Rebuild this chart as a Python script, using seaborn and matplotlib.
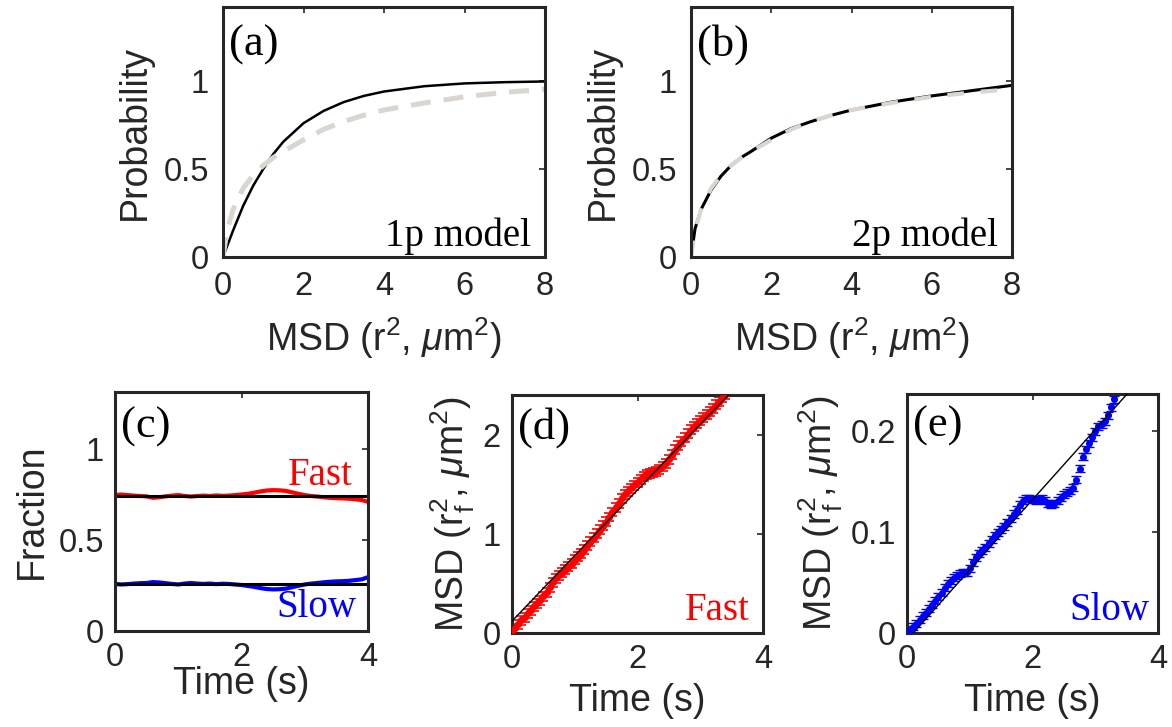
import numpy as np
import pandas as pd
import matplotlib
matplotlib.use("Agg")
import matplotlib.pyplot as plt
import seaborn as sns

# ---------------- data ----------------
# (a)/(b) cumulative probability vs MSD
msd_x = [0, 0.1, 0.25, 0.5, 0.75, 1.0, 1.25, 1.5, 2.0, 2.5, 3.0, 3.5, 4.0, 5.0, 6.0, 7.0, 8.0]
emp_cdf = [0, 0.15, 0.27, 0.39, 0.465, 0.52, 0.565, 0.60, 0.665, 0.725, 0.77, 0.805, 0.835, 0.875, 0.91, 0.935, 0.953]
fit_1p = [0, 0.06, 0.15, 0.29, 0.405, 0.50, 0.585, 0.655, 0.76, 0.83, 0.88, 0.915, 0.94, 0.97, 0.986, 0.993, 0.997]
fit_2p = [0, 0.16, 0.27, 0.38, 0.46, 0.52, 0.565, 0.60, 0.675, 0.73, 0.77, 0.805, 0.835, 0.88, 0.915, 0.945, 0.975]

# (c) fractions vs time
t_frac = [round(0.1 * i, 1) for i in range(41)]
frac_fast = [0.745, 0.748, 0.745, 0.742, 0.740, 0.738, 0.730, 0.733, 0.738, 0.742,
             0.745, 0.740, 0.737, 0.740, 0.742, 0.740, 0.743, 0.741, 0.742, 0.745,
             0.748, 0.752, 0.758, 0.765, 0.770, 0.772, 0.771, 0.768, 0.760, 0.752,
             0.745, 0.740, 0.737, 0.733, 0.730, 0.728, 0.727, 0.725, 0.722, 0.718, 0.708]
frac_slow = [0.258, 0.255, 0.257, 0.260, 0.262, 0.263, 0.268, 0.266, 0.262, 0.258,
             0.255, 0.260, 0.263, 0.260, 0.258, 0.260, 0.257, 0.259, 0.258, 0.255,
             0.252, 0.247, 0.242, 0.235, 0.230, 0.228, 0.229, 0.232, 0.240, 0.248,
             0.255, 0.260, 0.263, 0.267, 0.270, 0.272, 0.273, 0.275, 0.279, 0.283, 0.295]
fit_fast_frac = 0.74
fit_slow_frac = 0.26

# (d) fast MSD vs time
t_fast = [round(0.05 * i, 2) for i in range(70)]
msd_fast = [0.02, 0.05, 0.09, 0.13, 0.16, 0.20, 0.23, 0.27, 0.30, 0.33,
            0.37, 0.41, 0.46, 0.51, 0.55, 0.58, 0.61, 0.64, 0.67, 0.70,
            0.74, 0.77, 0.80, 0.84, 0.88, 0.92, 0.96, 1.00, 1.04, 1.08,
            1.12, 1.17, 1.22, 1.27, 1.31, 1.36, 1.40, 1.43, 1.46, 1.49,
            1.52, 1.55, 1.58, 1.60, 1.61, 1.62, 1.63, 1.65, 1.68, 1.71,
            1.75, 1.80, 1.85, 1.89, 1.93, 1.97, 2.01, 2.05, 2.08, 2.11,
            2.14, 2.17, 2.20, 2.23, 2.26, 2.30, 2.33, 2.37, 2.40, 2.44]
msd_fast_err = 0.045
fit_fast_t = [0.0, 3.6]
fit_fast_msd = [0.12, 2.50]

# (e) slow MSD vs time
t_slow = [round(0.05 * i, 2) for i in range(67)]
msd_slow = [0.000, 0.003, 0.006, 0.009, 0.013, 0.017, 0.020, 0.024, 0.028, 0.032,
            0.036, 0.040, 0.045, 0.049, 0.052, 0.055, 0.057, 0.059, 0.060, 0.060,
            0.064, 0.070, 0.075, 0.079, 0.082, 0.085, 0.089, 0.093, 0.097, 0.100,
            0.103, 0.106, 0.110, 0.114, 0.118, 0.122, 0.127, 0.131, 0.133, 0.133,
            0.132, 0.131, 0.132, 0.133, 0.131, 0.128, 0.127, 0.128, 0.131, 0.134,
            0.137, 0.139, 0.141, 0.144, 0.152, 0.163, 0.175, 0.182, 0.188, 0.194,
            0.200, 0.205, 0.207, 0.210, 0.216, 0.224, 0.232]
msd_slow_err = 0.0035
fit_slow_t = [0.1, 3.55]
fit_slow_msd = [0.0, 0.240]

# ---------------- style ----------------
sns.set_theme(style="white")
plt.rcParams["font.family"] = ["Liberation Sans", "DejaVu Sans"]
plt.rcParams["mathtext.fontset"] = "custom"
plt.rcParams["mathtext.rm"] = "Liberation Sans"
plt.rcParams["mathtext.it"] = "Liberation Sans:italic"
plt.rcParams["axes.edgecolor"] = "#262626"
plt.rcParams["axes.linewidth"] = 2.2

SERIF = ["Liberation Serif", "DejaVu Serif"]
TICK_FS = 23.5
LAB_FS = 27
ANN_FS = 28
LET_FS = 32
GRAY = (0.85, 0.84, 0.82)
DARK = "#262626"

fig = plt.figure(figsize=(11.72, 7.27), dpi=100)
W, H = 1172, 727


def add_axes(l, t, r, b):
    return fig.add_axes([l / W, 1 - b / H, (r - l) / W, (b - t) / H])


def style_axes(ax, pad=8):
    ax.tick_params(direction="in", length=4, width=1.2, top=True, right=True,
                   labelsize=TICK_FS, pad=pad, colors=DARK, labelcolor=DARK)
    for s in ax.spines.values():
        s.set_visible(True)
        s.set_color(DARK)
        s.set_linewidth(2.2)


ax_a = add_axes(223, 7, 545, 257)
ax_b = add_axes(691, 7, 1012, 257)
ax_c = add_axes(115, 392, 368, 631)
ax_d = add_axes(512, 395, 763, 633)
ax_e = add_axes(907, 394, 1158, 633)

df_ab = pd.DataFrame({"x": msd_x, "emp": emp_cdf, "f1": fit_1p, "f2": fit_2p})

# (a)
sns.lineplot(data=df_ab, x="x", y="f1", ax=ax_a, color="black", linewidth=1.8)
sns.lineplot(data=df_ab, x="x", y="emp", ax=ax_a, color=GRAY, linewidth=3.6,
             dashes=False).lines[-1].set_dashes([4, 2.6])
# (b)
sns.lineplot(data=df_ab, x="x", y="f2", ax=ax_b, color="black", linewidth=2.2)
sns.lineplot(data=df_ab, x="x", y="emp", ax=ax_b, color=GRAY, linewidth=3.0,
             dashes=False).lines[-1].set_dashes([4, 4])

for ax, lab, model in [(ax_a, "(a)", "1p model"), (ax_b, "(b)", "2p model")]:
    ax.set_xlim(0, 8)
    ax.set_ylim(0, 1.42)
    ax.set_xticks([0, 2, 4, 6, 8])
    ax.set_xticklabels(["0", "2", "4", "6", "8"])
    ax.set_yticks([0, 0.5, 1])
    ax.set_yticklabels(["0", "0.5", "1"])
    ax.set_xlabel(r"MSD (r$^2$, $\mu$m$^2$)", fontsize=LAB_FS, labelpad=10)
    ax.set_ylabel("Probability", fontsize=LAB_FS, labelpad=8)
    style_axes(ax, pad=10)
    ax.text(0.02, 0.93, lab, transform=ax.transAxes, ha="left", va="top",
            fontsize=LET_FS, family=SERIF, color="black")
    ax.text(0.955, 0.045, model, transform=ax.transAxes, ha="right", va="baseline",
            fontsize=ANN_FS, family=SERIF, color="black")

# (c)
df_c = pd.DataFrame({"t": t_frac, "fast": frac_fast, "slow": frac_slow})
sns.lineplot(data=df_c, x="t", y="fast", ax=ax_c, color="red", linewidth=3.0)
sns.lineplot(data=df_c, x="t", y="slow", ax=ax_c, color="blue", linewidth=3.0)
sns.lineplot(x=[0, 4], y=[fit_fast_frac, fit_fast_frac], ax=ax_c, color="black", linewidth=2.2)
sns.lineplot(x=[0, 4], y=[fit_slow_frac, fit_slow_frac], ax=ax_c, color="black", linewidth=2.2)
ax_c.set_xlim(0, 4)
ax_c.set_ylim(0, 1.31)
ax_c.set_yticks([0, 0.5, 1])
ax_c.set_yticklabels(["0", "0.5", "1"])
ax_c.set_xticks([0, 2, 4])
ax_c.set_xticklabels(["0", "2", "4"])
ax_c.set_ylabel("Fraction", fontsize=LAB_FS, labelpad=6)
ax_c.set_xlabel("Time (s)", fontsize=LAB_FS, labelpad=-5)
style_axes(ax_c)
ax_c.text(0.025, 0.94, "(c)", transform=ax_c.transAxes, ha="left", va="top",
          fontsize=LET_FS, family=SERIF, color="black")
ax_c.text(0.94, 0.61, "Fast", transform=ax_c.transAxes, ha="right", va="baseline",
          fontsize=ANN_FS, family=SERIF, color="red")
ax_c.text(0.955, 0.06, "Slow", transform=ax_c.transAxes, ha="right", va="baseline",
          fontsize=ANN_FS, family=SERIF, color="blue")

# (d)
ax_d.errorbar(t_fast, msd_fast, yerr=msd_fast_err, fmt="none", ecolor="red",
              elinewidth=1.2, capsize=3.5, capthick=1.2, zorder=2)
sns.scatterplot(x=t_fast, y=msd_fast, ax=ax_d, color="red", s=26, marker="o",
                edgecolor="red", linewidth=0, zorder=3)
sns.lineplot(x=fit_fast_t, y=fit_fast_msd, ax=ax_d, color="black", linewidth=1.0, zorder=4)
ax_d.set_xlim(0, 4)
ax_d.set_ylim(0, 2.4)
ax_d.set_yticks([0, 1, 2])
ax_d.set_yticklabels(["0", "1", "2"])
ax_d.set_xticks([0, 2, 4])
ax_d.set_xticklabels(["0", "2", "4"])
ax_d.set_xlabel("Time (s)", fontsize=LAB_FS, labelpad=6)
ax_d.set_ylabel(r"MSD (r$_\mathrm{f}^2$, $\mu$m$^2$)", fontsize=LAB_FS, labelpad=4)
style_axes(ax_d)
ax_d.text(0.025, 0.95, "(d)", transform=ax_d.transAxes, ha="left", va="top",
          fontsize=LET_FS, family=SERIF, color="black")
ax_d.text(0.945, 0.055, "Fast", transform=ax_d.transAxes, ha="right", va="baseline",
          fontsize=ANN_FS, family=SERIF, color="red")

# (e)
ax_e.errorbar(t_slow, msd_slow, yerr=msd_slow_err, fmt="none", ecolor="blue",
              elinewidth=1.0, capsize=3.5, capthick=1.0, zorder=2)
sns.scatterplot(x=t_slow, y=msd_slow, ax=ax_e, color="blue", s=26, marker="o",
                edgecolor="blue", linewidth=0, zorder=3)
sns.lineplot(x=fit_slow_t, y=fit_slow_msd, ax=ax_e, color="black", linewidth=1.0, zorder=4)
ax_e.set_xlim(0, 4)
ax_e.set_ylim(0, 0.237)
ax_e.set_yticks([0, 0.1, 0.2])
ax_e.set_yticklabels(["0", "0.1", "0.2"])
ax_e.set_xticks([0, 2, 4])
ax_e.set_xticklabels(["0", "2", "4"])
ax_e.set_xlabel("Time (s)", fontsize=LAB_FS, labelpad=6)
ax_e.set_ylabel(r"MSD (r$_\mathrm{f}^2$, $\mu$m$^2$)", fontsize=LAB_FS, labelpad=4)
style_axes(ax_e)
ax_e.text(0.025, 0.95, "(e)", transform=ax_e.transAxes, ha="left", va="top",
          fontsize=LET_FS, family=SERIF, color="black")
ax_e.text(0.965, 0.055, "Slow", transform=ax_e.transAxes, ha="right", va="baseline",
          fontsize=ANN_FS, family=SERIF, color="blue")

for ax in [ax_a, ax_b, ax_c, ax_d, ax_e]:
    if ax.get_legend() is not None:
        ax.get_legend().remove()

fig.savefig("out.png", dpi=100)
